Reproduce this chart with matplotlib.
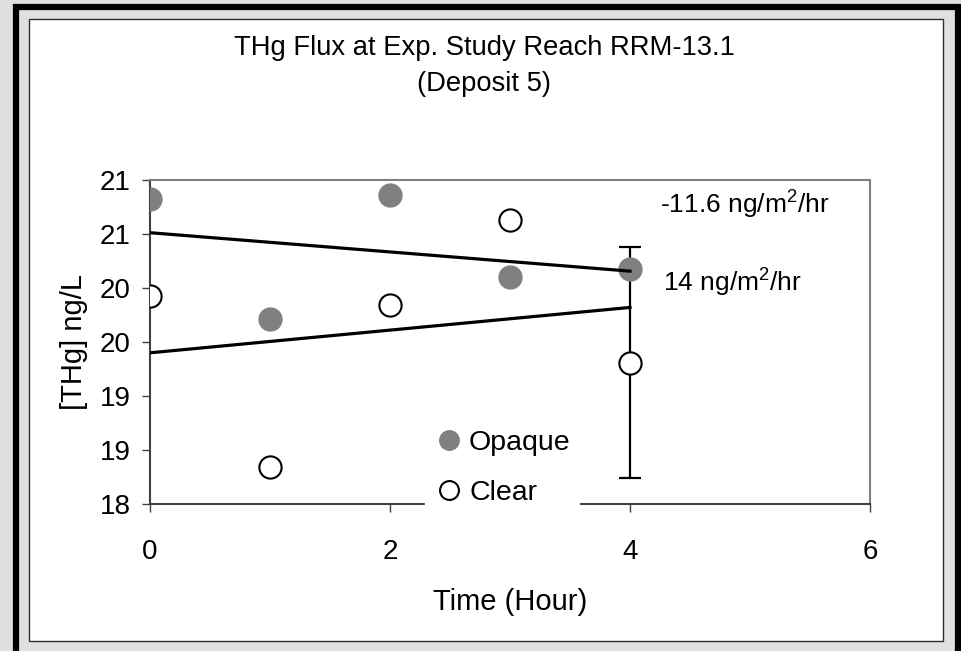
import numpy as np
import matplotlib.pyplot as plt
from matplotlib.patches import Rectangle

plt.rcParams['font.family'] = ['Liberation Sans', 'DejaVu Sans']
plt.rcParams['mathtext.fontset'] = 'custom'
plt.rcParams['mathtext.rm'] = 'Liberation Sans'
plt.rcParams['mathtext.it'] = 'Liberation Sans'

# data
hours = [0, 1, 2, 3, 4]
opaque = [20.82, 19.71, 20.86, 20.10, 20.18]
clear = [19.93, 18.34, 19.84, 20.63, 19.31]
err_x = [4]
err_y = [19.31]
err_size = [1.07]
slope_labels = ['-11.6 ng/m$^2$/hr', '14 ng/m$^2$/hr']
ytick_vals = [18, 18.5, 19, 19.5, 20, 20.5, 21]
ytick_labels = ['18', '19', '19', '20', '20', '21', '21']
xtick_vals = [0, 2, 4, 6]

W, H = 962, 651
fig = plt.figure(figsize=(W / 100, H / 100), dpi=100)
fig.patch.set_facecolor('#e0e0e0')

def px(x0, y0, x1, y1):
    # pixel box -> figure fraction rect
    return (x0 / W, 1 - y1 / H), (x1 - x0) / W, (y1 - y0) / H

# outer black frame and inner white panel
xy, w, h = px(16, 6.5, 958, 680)
fig.patches.append(Rectangle(xy, w, h, transform=fig.transFigure, fill=False,
                             edgecolor='black', lw=4.5, zorder=-2))
xy, w, h = px(29, 19, 943, 641)
fig.patches.append(Rectangle(xy, w, h, transform=fig.transFigure, facecolor='white',
                             edgecolor='#303030', lw=1.0, zorder=-1))

ax = fig.add_axes([150 / W, 1 - 504 / H, 720 / W, 324 / H])
ax.set_facecolor('white')

ax.errorbar(err_x, err_y, yerr=err_size, fmt='none', ecolor='black',
            elinewidth=1.6, capsize=8, capthick=1.6, zorder=2)
ax.plot(hours, opaque, 'o', ms=16.5, color='#808080', mec='#808080', zorder=3, label='Opaque')

# linear trend lines
for ys in (opaque, clear):
    m, b = np.polyfit(hours, ys, 1)
    xx = np.array([hours[0], hours[-1]])
    ax.plot(xx, m * xx + b, color='black', lw=2.3, zorder=4)

ax.plot(hours, clear, 'o', ms=16, mfc='white', mec='black', mew=1.5, zorder=5, label='Clear')

ax.set_xlim(0, 6)
ax.set_ylim(18, 21)
ax.set_xticks(xtick_vals)
ax.set_yticks(ytick_vals)
ax.set_yticklabels(ytick_labels)
ax.tick_params(direction='out', length=6, width=1, colors='#404040',
               labelsize=20, labelcolor='black')
ax.tick_params(axis='y', pad=8)
ax.tick_params(axis='x', pad=19)
for s in ('left', 'bottom'):
    ax.spines[s].set_color('#404040')
    ax.spines[s].set_linewidth(1.5)
for s in ('top', 'right'):
    ax.spines[s].set_color('#808080')
    ax.spines[s].set_linewidth(1.5)

ax.set_xlabel('Time (Hour)', fontsize=21, labelpad=17)
ax.set_ylabel('[THg] ng/L', fontsize=21, labelpad=8)

ax.text(660 / W, 1 - 205 / H, slope_labels[0], transform=fig.transFigure,
        fontsize=19, va='center', ha='left')
ax.text(663 / W, 1 - 283 / H, slope_labels[1], transform=fig.transFigure,
        fontsize=19, va='center', ha='left')

fig.text(484 / W, 1 - 48 / H, 'THg Flux at Exp. Study Reach RRM-13.1',
         fontsize=19.7, ha='center', va='center')
fig.text(484 / W, 1 - 84 / H, '(Deposit 5)', fontsize=19.7, ha='center', va='center')

leg = ax.legend(loc='center', bbox_to_anchor=(0.489, 0.11), fontsize=20.5,
                frameon=True, fancybox=False, facecolor='white', edgecolor='white',
                framealpha=1, markerscale=0.85, handletextpad=0.15, labelspacing=0.85,
                borderpad=0.3, handlelength=1.1)
leg.set_zorder(10)

fig.savefig('out.png', dpi=100, facecolor=fig.get_facecolor())
